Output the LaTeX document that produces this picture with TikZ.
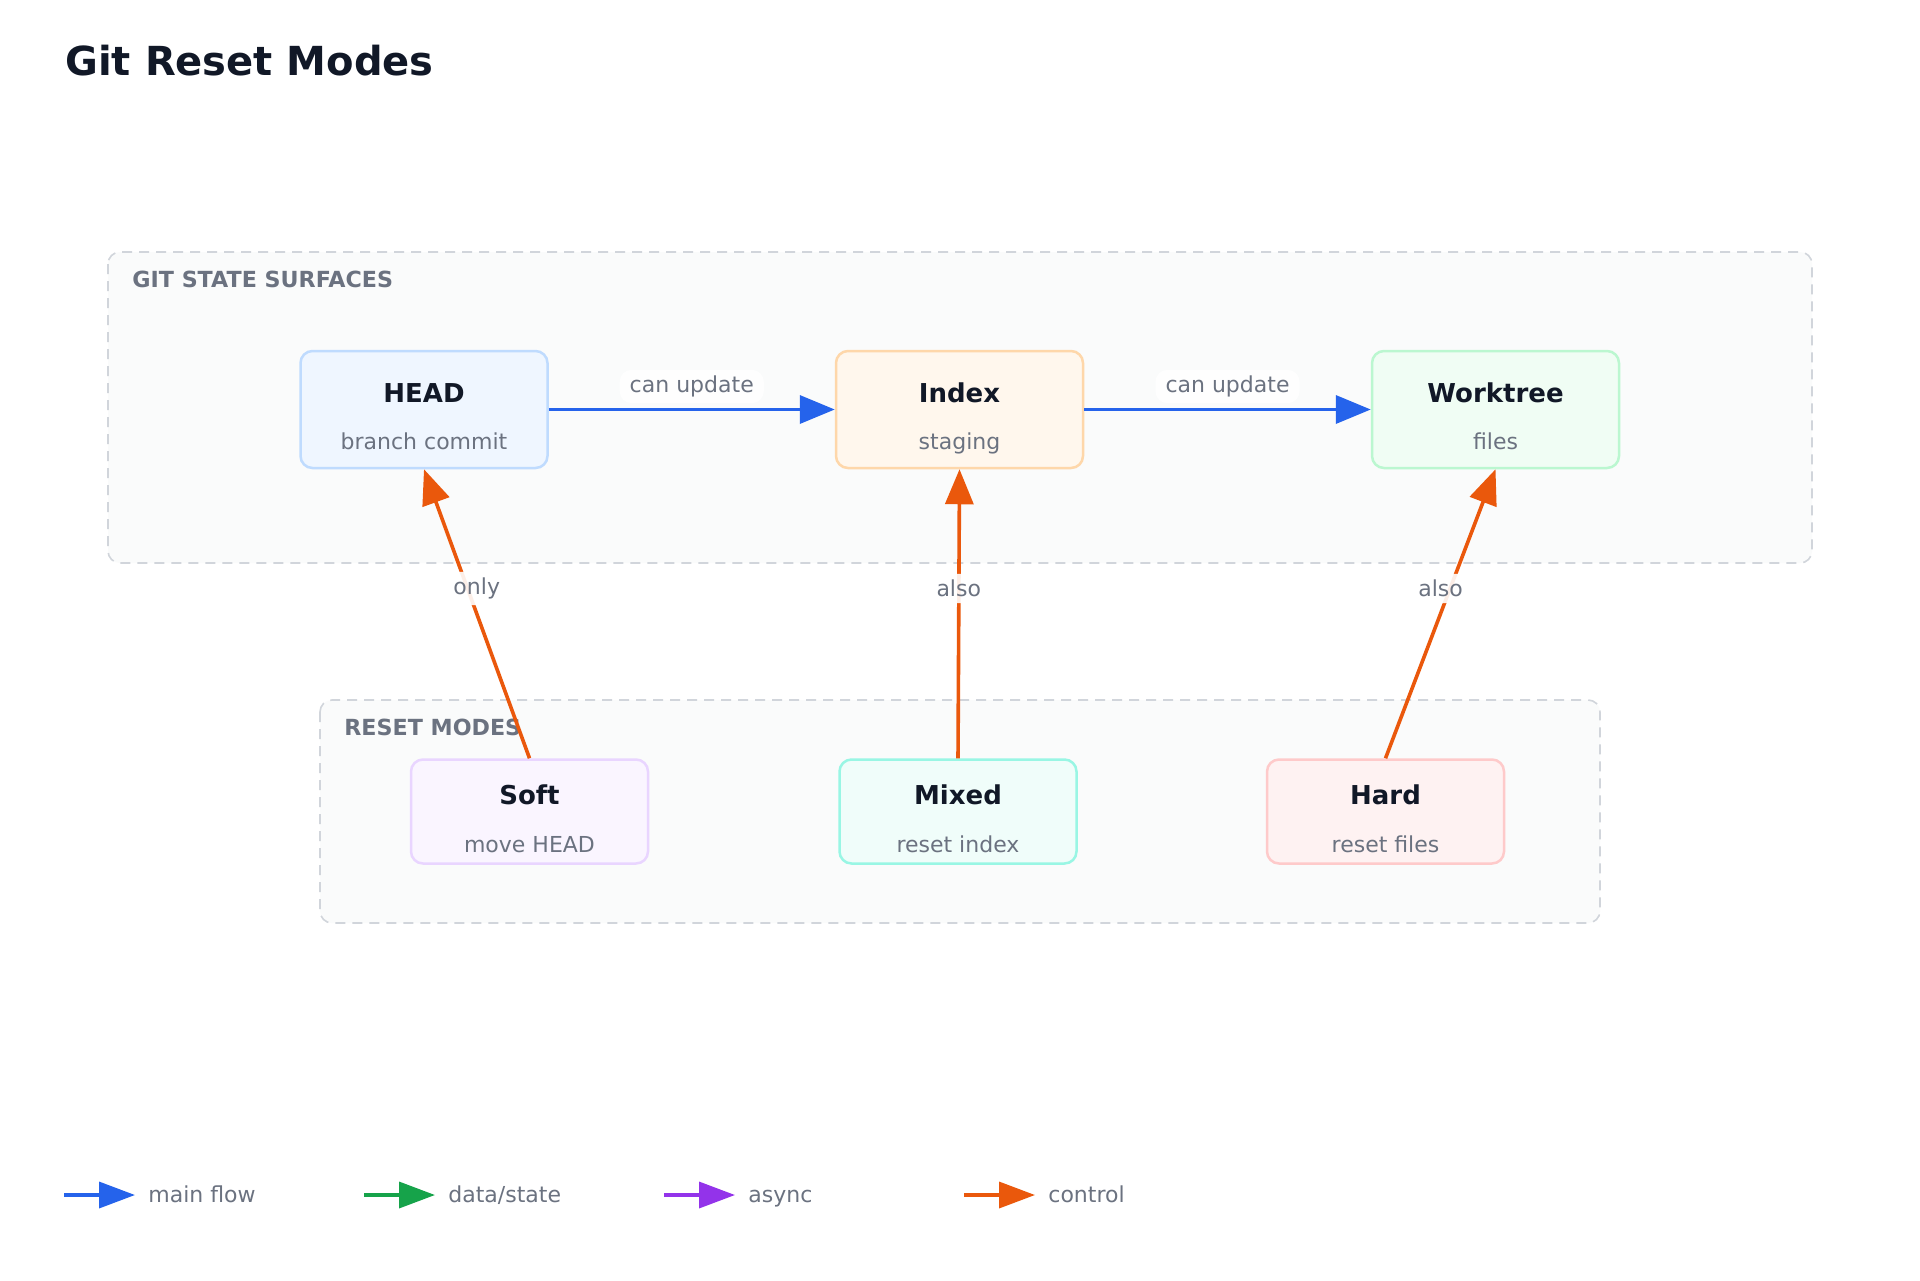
\documentclass[tikz,border=0pt]{standalone}
\usepackage{fontspec}
\setmainfont{DejaVu Sans}
\usetikzlibrary{arrows.meta,calc,positioning}

\definecolor{ink}{HTML}{111827}
\definecolor{muted}{HTML}{6B7280}
\definecolor{groupfill}{HTML}{FAFBFB}
\definecolor{groupline}{HTML}{D1D5DB}
\definecolor{mainblue}{HTML}{2563EB}
\definecolor{datagreen}{HTML}{16A34A}
\definecolor{asyncpurple}{HTML}{9333EA}
\definecolor{ctrlorange}{HTML}{EA580C}
\definecolor{headfill}{HTML}{EFF6FF}
\definecolor{headline}{HTML}{BFDBFE}
\definecolor{indexfill}{HTML}{FFF7ED}
\definecolor{indexline}{HTML}{FED7AA}
\definecolor{treefill}{HTML}{F0FDF4}
\definecolor{treeline}{HTML}{BBF7D0}
\definecolor{softfill}{HTML}{FAF5FF}
\definecolor{softline}{HTML}{E9D5FF}
\definecolor{mixedfill}{HTML}{F0FDFA}
\definecolor{mixedline}{HTML}{99F6E4}
\definecolor{hardfill}{HTML}{FEF2F2}
\definecolor{hardline}{HTML}{FECACA}

\tikzset{
  groupbox/.style={draw=groupline, fill=groupfill, line width=0.8pt, dash pattern=on 5pt off 3.5pt, rounded corners=6pt},
  grouptitle/.style={anchor=base west, text=muted, font=\fontsize{11.1}{13}\selectfont\bfseries, inner sep=0pt},
  statebox/.style={rectangle, rounded corners=6pt, line width=1.25pt, minimum width=123.5pt, minimum height=58.5pt},
  modebox/.style={rectangle, rounded corners=6pt, line width=1.25pt, minimum width=118.5pt, minimum height=52pt},
  boxtitle/.style={anchor=base, text=ink, font=\fontsize{13}{15}\selectfont\bfseries, inner sep=0pt},
  boxsub/.style={anchor=base, text=muted, font=\fontsize{11}{13}\selectfont, inner sep=0pt},
  flow/.style={line width=1.8pt, -{Triangle[length=17.5pt, width=14pt]}},
  keyflow/.style={line width=1.8pt, -{Triangle[length=18pt, width=13pt]}},
  edgelabel/.style={fill=white, fill opacity=0.9, text opacity=1, rounded corners=6pt, text=muted, font=\fontsize{11}{13}\selectfont, inner xsep=5pt, inner ysep=3pt},
  keytext/.style={anchor=base west, text=muted, font=\fontsize{11}{13}\selectfont, inner sep=0pt},
}

\begin{document}
\begin{tikzpicture}[x=0.5pt, y=-0.5pt]
        \fill[white] (0,0) rectangle (1920,1280);
        \useasboundingbox (0,0) rectangle (1920,1280);

        \node[anchor=base west, text=ink, font=\fontsize{20}{24}\selectfont\bfseries, inner sep=0pt] (title) at (65,75) {Git Reset Modes};

        % groups
        \draw[groupbox] (108,252) rectangle (1812,563);
        \node[grouptitle] (surfaces) at (132,287.5) {GIT STATE SURFACES};
        \draw[groupbox] (320,700) rectangle (1600,923);
        \node[grouptitle] (modes) at (344,735) {RESET MODES};

        % state surfaces
        \node[statebox, draw=headline, fill=headfill] at (424,409.5) (head) {};
        \node[boxtitle] at ([yshift=3.75pt]head.center) (head-t) {HEAD};
        \node[boxsub] at ([yshift=-20pt]head.center) (head-s) {branch commit};
        \node[statebox, draw=indexline, fill=indexfill] at (959.5,409.5) (index) {};
        \node[boxtitle] at ([yshift=3.75pt]index.center) (index-t) {Index};
        \node[boxsub] at ([yshift=-20pt]index.center) (index-s) {staging};
        \node[statebox, draw=treeline, fill=treefill] at (1495.5,409.5) (tree) {};
        \node[boxtitle] at ([yshift=3.75pt]tree.center) (tree-t) {Worktree};
        \node[boxsub] at ([yshift=-20pt]tree.center) (tree-s) {files};

        % reset modes
        \node[modebox, draw=softline, fill=softfill] at (529.5,811.5) (soft) {};
        \node[boxtitle] at ([yshift=3.5pt]soft.center) (soft-t) {Soft};
        \node[boxsub] at ([yshift=-20.5pt]soft.center) (soft-s) {move HEAD};
        \node[modebox, draw=mixedline, fill=mixedfill] at (958,811.5) (mixed) {};
        \node[boxtitle] at ([yshift=3.5pt]mixed.center) (mixed-t) {Mixed};
        \node[boxsub] at ([yshift=-20.5pt]mixed.center) (mixed-s) {reset index};
        \node[modebox, draw=hardline, fill=hardfill] at (1385.5,811.5) (hard) {};
        \node[boxtitle] at ([yshift=3.5pt]hard.center) (hard-t) {Hard};
        \node[boxsub] at ([yshift=-20.5pt]hard.center) (hard-s) {reset files};

        % connectors
        \draw[flow, mainblue] (head) -- (index);
        \draw[flow, mainblue] (index) -- (tree);
        \draw[flow, ctrlorange] (soft.north) -- (head.south);
        \draw[flow, ctrlorange] (mixed.north) -- (index.south);
        \draw[flow, ctrlorange] (hard.north) -- (tree.south);

        \node[edgelabel] at ($(head.east)!0.5!(index.west)+(0,-23)$) (upd1) {can update};
        \node[edgelabel] at ($(index.east)!0.5!(tree.west)+(0,-23)$) (upd2) {can update};
        \node[edgelabel] at ($(soft)!0.5!(head)+(0,-22)$) (only) {only};
        \node[edgelabel] at ($(mixed)!0.5!(index)+(0,-22)$) (also1) {also};
        \node[edgelabel] at ($(hard)!0.5!(tree)+(0,-22)$) (also2) {also};

        % legend
        \coordinate (k1a) at (64,1195);
        \coordinate (k1b) at (135,1195);
        \draw[keyflow, mainblue] (k1a) -- (k1b);
        \node[keytext] at (148,1202) (k1) {main flow};
        \coordinate (k2a) at (364,1195);
        \coordinate (k2b) at (435,1195);
        \draw[keyflow, datagreen] (k2a) -- (k2b);
        \node[keytext] at (448,1202) (k2) {data/state};
        \coordinate (k3a) at (664,1195);
        \coordinate (k3b) at (735,1195);
        \draw[keyflow, asyncpurple] (k3a) -- (k3b);
        \node[keytext] at (748,1202) (k3) {async};
        \coordinate (k4a) at (964,1195);
        \coordinate (k4b) at (1035,1195);
        \draw[keyflow, ctrlorange] (k4a) -- (k4b);
        \node[keytext] at (1048,1202) (k4) {control};
    \end{tikzpicture}
\end{document}
